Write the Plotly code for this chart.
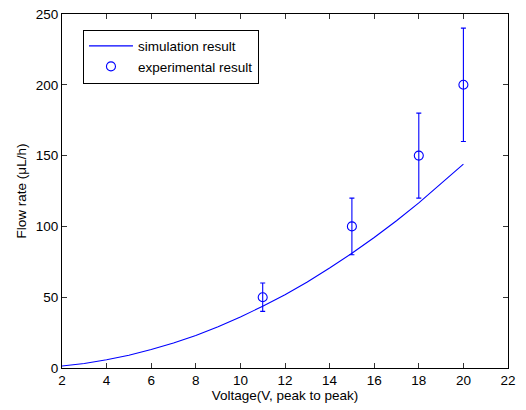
import plotly.graph_objects as go

# Simulated flow rate along the voltage sweep
sim_voltage = [2, 3, 4, 5, 6, 7, 8, 9, 10, 11, 12, 13, 14, 15, 16, 17, 18, 19, 20]
sim_flow = [1.4, 3.2, 5.8, 9.0, 13.0, 17.6, 23.0, 29.2, 36.0, 43.6, 51.8,
            60.8, 70.6, 81.0, 92.2, 104.0, 116.6, 130.0, 144.0]

# Measured flow rate with uncertainty
exp_voltage = [11, 15, 18, 20]
exp_flow = [50, 100, 150, 200]
exp_err = [10, 20, 30, 40]

x_ticks = [2, 4, 6, 8, 10, 12, 14, 16, 18, 20, 22]
y_ticks = [0, 50, 100, 150, 200, 250]

BLUE = "#0000ff"
FONT = "Liberation Sans, Arial, sans-serif"
FS = 13.5

fig = go.Figure()
fig.add_trace(go.Scatter(
    x=sim_voltage, y=sim_flow, mode="lines",
    line=dict(color=BLUE, width=1.1),
    name="simulation result",
))
fig.add_trace(go.Scatter(
    x=exp_voltage, y=exp_flow, mode="markers",
    marker=dict(symbol="circle-open", size=9, color=BLUE, line=dict(width=1.1)),
    error_y=dict(type="data", array=exp_err, color=BLUE, thickness=1.1, width=2.5),
    name="experimental result",
))

axis_common = dict(
    showline=True, linecolor="black", linewidth=1, mirror="ticks",
    ticks="inside", ticklen=5, tickcolor="#333333", tickwidth=1,
    showgrid=False, zeroline=False, automargin=False,
    tickfont=dict(family=FONT, size=FS, color="black"),
)

fig.update_xaxes(
    range=[2, 22], tickvals=x_ticks,
    title=dict(text="Voltage(V, peak to peak)", font=dict(family=FONT, size=FS, color="black"),
               standoff=2),
    **axis_common,
)
fig.update_yaxes(
    range=[0, 250], tickvals=y_ticks,
    title=dict(text="Flow rate (μL/h)", font=dict(family=FONT, size=FS, color="black"),
               standoff=6),
    **axis_common,
)

fig.update_layout(
    width=526, height=410,
    margin=dict(l=62, r=18, t=14, b=42),
    plot_bgcolor="white", paper_bgcolor="white",
    font=dict(family=FONT, size=FS, color="black"),
    legend=dict(
        x=0.047, y=0.956, xanchor="left", yanchor="top",
        bordercolor="black", borderwidth=1, bgcolor="white",
        font=dict(family=FONT, size=FS, color="black"),
        itemwidth=44, tracegroupgap=0,
    ),
)

fig.write_html("out.html")
